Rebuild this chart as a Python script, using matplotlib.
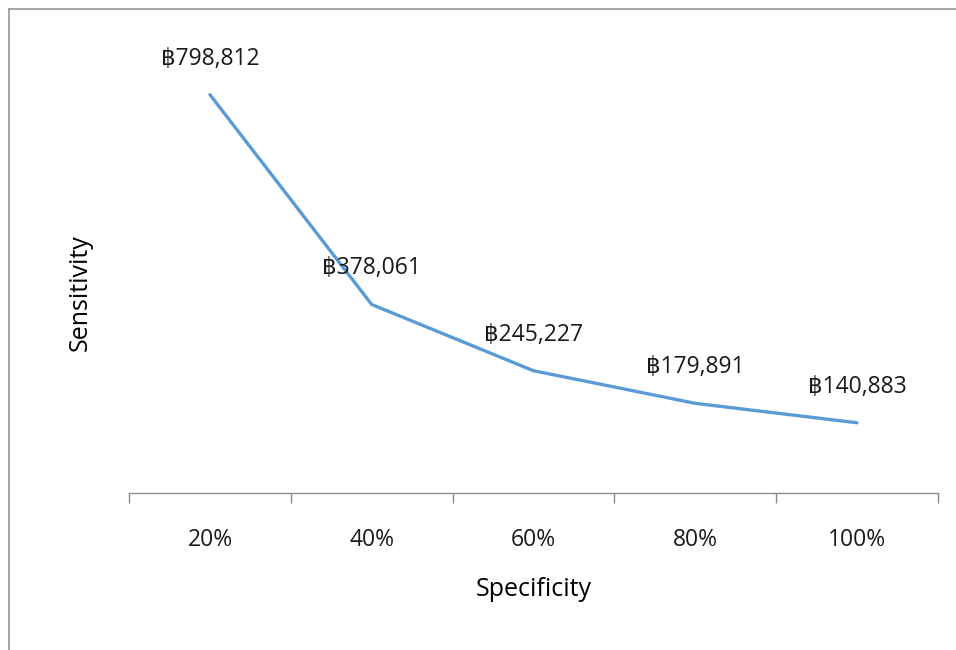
import matplotlib
matplotlib.use("Agg")
import matplotlib.pyplot as plt
from matplotlib.lines import Line2D

plt.rcParams['font.family'] = ['Open Sans', 'DejaVu Sans']

specificity = ['20%', '40%', '60%', '80%', '100%']
cost = [798812, 378061, 245227, 179891, 140883]

fig = plt.figure(figsize=(9.56, 6.5), dpi=100)
ax = fig.add_axes([0.135, 0.2415, 0.846, 0.6905])

x = list(range(len(specificity)))
ax.plot(x, cost, color='#5B9BD5', lw=2.4, solid_capstyle='round')

for xi, v in zip(x, cost):
    ax.annotate('฿{:,}'.format(v), (xi, v), xytext=(0, 26), textcoords='offset points',
                ha='center', va='center', fontsize=16.5, color='#1a1a1a')

ax.set_xlim(-0.5, len(specificity) - 0.5)
ax.set_ylim(0, 900000)
ax.set_yticks([])
ax.set_xticks(x)
ax.set_xticklabels(specificity, fontsize=16.5, color='#1a1a1a')
ax.set_xticks([i - 0.5 for i in range(len(specificity) + 1)], minor=True)
ax.tick_params(axis='x', which='major', length=0, pad=25)
ax.tick_params(axis='x', which='minor', length=7.5, width=1, color='#8c8c8c')

for s in ['left', 'top', 'right']:
    ax.spines[s].set_visible(False)
ax.spines['bottom'].set_color('#8c8c8c')
ax.spines['bottom'].set_linewidth(1)

ax.set_xlabel('Specificity', fontsize=18, labelpad=18, color='#000000')
ax.set_ylabel('Sensitivity', fontsize=18, color='#000000', va='center')
ax.yaxis.set_label_coords(-0.06, 0.447)

# outer frame: only the top and left edges show
fig.add_artist(Line2D([8.5 / 956, 8.5 / 956], [0, 1 - 8.5 / 650], transform=fig.transFigure,
                      color='#9e9e9e', lw=1.3))
fig.add_artist(Line2D([8.5 / 956, 1], [1 - 8.5 / 650, 1 - 8.5 / 650], transform=fig.transFigure,
                      color='#9e9e9e', lw=1.3))

fig.savefig('out.png', dpi=100)
